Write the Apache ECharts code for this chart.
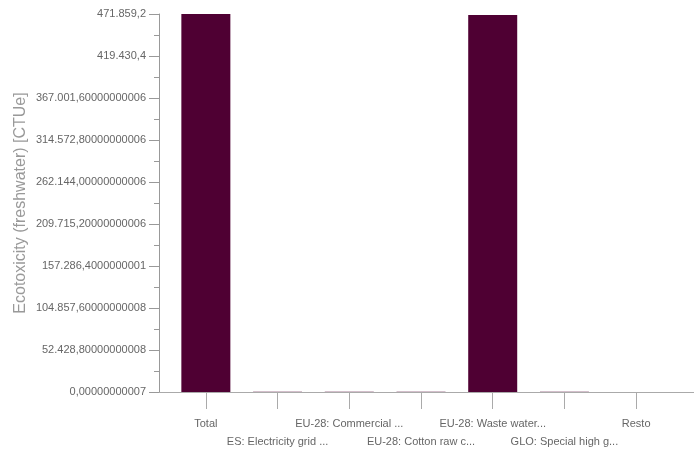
<!DOCTYPE html>
<html>
<head>
<meta charset="utf-8">
<script src="https://cdn.jsdelivr.net/npm/echarts@6/dist/echarts.min.js"></script>
<style>html,body{margin:0;padding:0;background:#fff}#c{width:694px;height:450px}</style>
</head>
<body>
<div id="c"></div>
<script>
var categories = ["Total", "ES: Electricity grid ...", "EU-28: Commercial ...", "EU-28: Cotton raw c...", "EU-28: Waste water...", "GLO: Special high g...", "Resto"];
var values = [471859.2, 420, 310, 250, 470600, 180, 100];
var tickLabels = ["0,00000000007", "52.428,80000000008", "104.857,60000000008", "157.286,4000000001", "209.715,20000000006", "262.144,00000000006", "314.572,80000000006", "367.001,60000000006", "419.430,4", "471.859,2"];
var yTitle = "Ecotoxicity (freshwater) [CTUe]";

var chart = echarts.init(document.getElementById('c'));
var font = "'Liberation Sans', Arial, sans-serif";
chart.setOption({
  animation: false,
  grid: {left: 170, right: 22, top: 14, bottom: 58, containLabel: false, outerBoundsMode: 'none'},
  xAxis: {
    type: 'category',
    data: categories,
    axisLine: {show: true, lineStyle: {color: '#aaa', width: 1}},
    axisTick: {show: true, alignWithLabel: true, length: 17, lineStyle: {color: '#aaa'}},
    axisLabel: {
      interval: 0, color: '#666', fontFamily: font, fontSize: 11, margin: 23, lineHeight: 18,
      formatter: function (v, i) { return i % 2 === 1 ? '\n' + v : v; }
    }
  },
  yAxis: {
    type: 'value',
    min: 0, max: 471859.2, interval: 52428.8,
    offset: 11,
    name: yTitle, nameLocation: 'middle', nameGap: 130, nameMoveOverlap: false,
    nameTextStyle: {color: '#999', fontSize: 16, fontFamily: font},
    axisLine: {show: true, lineStyle: {color: '#999'}},
    axisTick: {show: true, length: 10, lineStyle: {color: '#999'}},
    minorTick: {show: true, splitNumber: 2, length: 5, lineStyle: {color: '#999'}},
    splitLine: {show: false},
    axisLabel: {
      color: '#666', fontFamily: font, fontSize: 11, margin: 13,
      formatter: function (v, i) { return tickLabels[i] !== undefined ? tickLabels[i] : ''; }
    }
  },
  graphic: [{
    type: 'line', z: 1,
    shape: {x1: 159, y1: 392.5, x2: 694, y2: 392.5},
    style: {stroke: '#aaa', lineWidth: 1}
  }],
  series: [{
    type: 'bar', data: values, barWidth: 49,
    itemStyle: {color: '#4f0033'}
  }]
});
</script>
</body>
</html>
